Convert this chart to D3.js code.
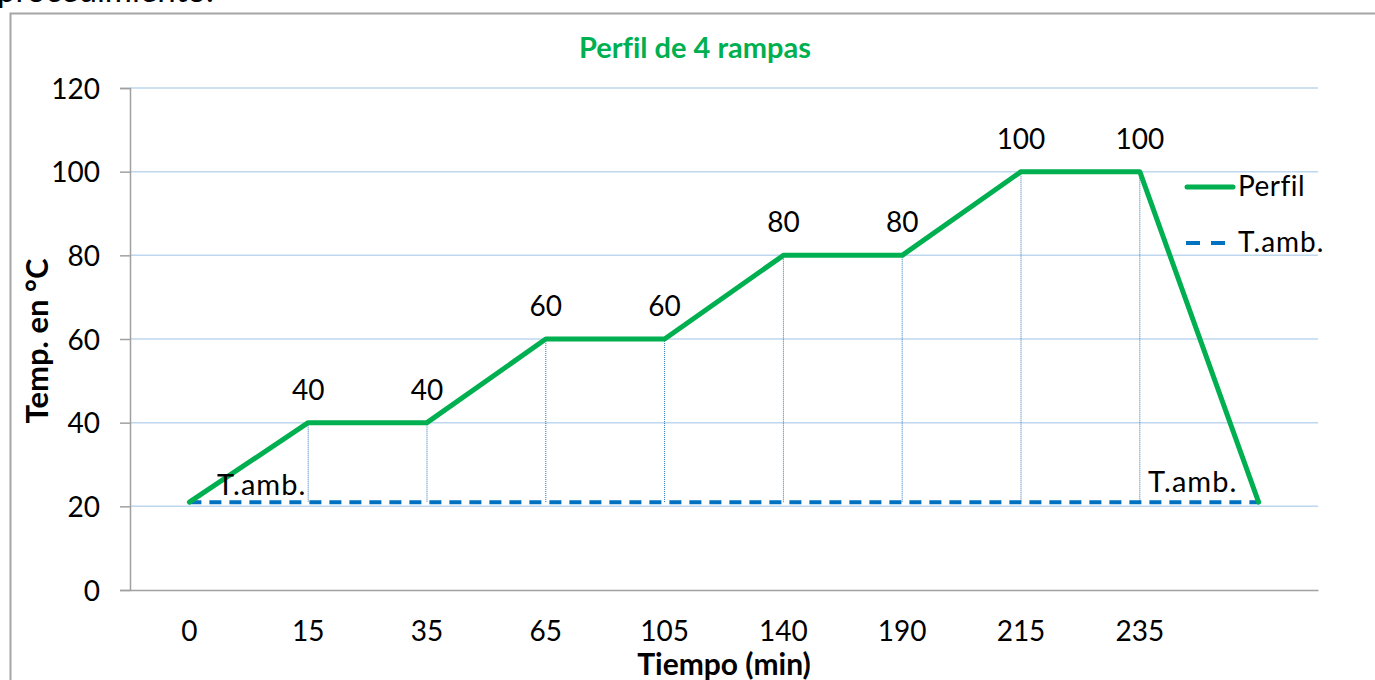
<!DOCTYPE html>
<html>
<head>
<meta charset="utf-8">
<script src="https://cdn.jsdelivr.net/npm/d3@7"></script>
<style>
  html, body { margin: 0; padding: 0; background: #fff; }
  svg { display: block; font-family: Lato, "Open Sans", sans-serif; font-variant-ligatures: none; }
</style>
</head>
<body>
<svg id="chart" width="1375" height="680"></svg>
<script>
// Heating profile: time checkpoints (min) and target temperature (°C)
const categories = ["0", "15", "35", "65", "105", "140", "190", "215", "235", ""];
const perfil = [21, 40, 40, 60, 60, 80, 80, 100, 100, 21];
const tAmb = [21, 21, 21, 21, 21, 21, 21, 21, 21, 21];
const yTicks = [0, 20, 40, 60, 80, 100, 120];

const svg = d3.select("#chart");
const margin = { left: 130, right: 1318, top: 88, bottom: 590 };

const x = d3.scaleBand().domain(d3.range(categories.length))
  .range([margin.left, margin.right]).padding(0);
const y = d3.scaleLinear().domain([0, 120]).range([margin.bottom, margin.top]);
const cx = i => x(i) + x.bandwidth() / 2;

// caption text running above the chart frame
svg.append("text").attr("x", -3).attr("y", 2)
  .attr("font-size", 33).attr("fill", "#000").text("procedimiento.");

// chart frame
svg.append("rect").attr("x", 10.5).attr("y", 13.5)
  .attr("width", 1400).attr("height", 700)
  .attr("fill", "#fff").attr("stroke", "#a6a6a6").attr("stroke-width", 2);

// title
svg.append("text").attr("x", 695).attr("y", 58).attr("text-anchor", "middle")
  .attr("font-size", 29).attr("font-weight", "bold").attr("fill", "#00b050")
  .text("Perfil de 4 rampas");

// horizontal gridlines
svg.append("g").selectAll("line").data(yTicks.filter(d => d > 0)).join("line")
  .attr("x1", margin.left).attr("x2", margin.right)
  .attr("y1", d => y(d)).attr("y2", d => y(d))
  .attr("stroke", "#bdd7ee").attr("stroke-width", 1.5);

// y axis
const yAxis = svg.append("g").attr("transform", `translate(${margin.left},0)`)
  .call(d3.axisLeft(y).tickValues(yTicks).tickSize(10).tickPadding(20));
yAxis.select(".domain").attr("stroke", "#a0a0a0").attr("stroke-width", 1.5);
yAxis.selectAll(".tick line").attr("stroke", "#a0a0a0").attr("stroke-width", 1.5);
yAxis.selectAll(".tick text").attr("font-size", 28).attr("font-family", "Lato")
  .attr("fill", "#000").attr("dy", "0.36em");

// x axis
const xAxis = svg.append("g").attr("transform", `translate(0,${margin.bottom})`)
  .call(d3.axisBottom(x).tickFormat(i => categories[i]).tickSize(0).tickPadding(31));
xAxis.select(".domain").attr("stroke", "#a0a0a0").attr("stroke-width", 1.5);
xAxis.selectAll(".tick text").attr("font-size", 28).attr("font-family", "Lato")
  .attr("fill", "#000");

// axis titles
svg.append("text")
  .attr("transform", "translate(48,341) rotate(-90)")
  .attr("text-anchor", "middle").attr("font-size", 31).attr("font-weight", "bold")
  .text("Temp. en °C");
svg.append("text").attr("x", 724).attr("y", 675).attr("text-anchor", "middle")
  .attr("font-size", 30).attr("font-weight", "bold")
  .text("Tiempo (min)");

// drop lines from each profile point to the ambient level
svg.append("g").selectAll("line")
  .data(perfil.map((v, i) => ({ v, i, a: tAmb[i] })).filter(d => d.v !== d.a))
  .join("line")
  .attr("x1", d => cx(d.i)).attr("x2", d => cx(d.i))
  .attr("y1", d => y(d.v)).attr("y2", d => y(d.a))
  .attr("stroke", "#2e75b6").attr("stroke-width", 1).attr("stroke-dasharray", "1,1");

// ambient temperature (dashed)
const line = d3.line().x((d, i) => cx(i)).y(d => y(d));
svg.append("path").datum(tAmb).attr("d", line)
  .attr("fill", "none").attr("stroke", "#0070c0").attr("stroke-width", 4)
  .attr("stroke-dasharray", "12,8");

// profile line
svg.append("path").datum(perfil).attr("d", line)
  .attr("fill", "none").attr("stroke", "#00b050").attr("stroke-width", 5)
  .attr("stroke-linejoin", "round").attr("stroke-linecap", "round");

// value labels at the profile points
svg.append("g").selectAll("text")
  .data(perfil.map((v, i) => ({ v, i })).filter(d => d.v !== tAmb[d.i]))
  .join("text")
  .attr("x", d => cx(d.i)).attr("y", d => y(d.v) - 23)
  .attr("text-anchor", "middle").attr("font-size", 28).attr("fill", "#000")
  .text(d => d.v);

// ambient annotations at both ends
svg.append("text").attr("x", 217).attr("y", 495).attr("font-size", 29)
  .attr("letter-spacing", 1).text("T.amb.");
svg.append("text").attr("x", 1148).attr("y", 492).attr("font-size", 29)
  .attr("letter-spacing", 1).text("T.amb.");

// legend
const legend = svg.append("g");
legend.append("line").attr("x1", 1187).attr("x2", 1233).attr("y1", 187).attr("y2", 187)
  .attr("stroke", "#00b050").attr("stroke-width", 5).attr("stroke-linecap", "round");
legend.append("text").attr("x", 1238).attr("y", 196).attr("font-size", 28)
  .attr("letter-spacing", 0.5).text("Perfil");
legend.append("line").attr("x1", 1186).attr("x2", 1226).attr("y1", 243).attr("y2", 243)
  .attr("stroke", "#0070c0").attr("stroke-width", 4).attr("stroke-dasharray", "14,11");
legend.append("text").attr("x", 1238).attr("y", 252).attr("font-size", 28)
  .attr("letter-spacing", 1).text("T.amb.");
</script>
</body>
</html>
